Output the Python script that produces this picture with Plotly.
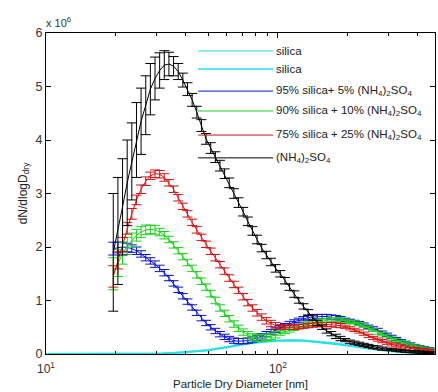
import plotly.graph_objects as go

# Particle dry diameter grid [nm] (SMPS bins)
diam = [19.50, 20.42, 21.38, 22.39, 23.44, 24.55, 25.70, 26.92, 28.18, 29.51,
        30.90, 32.36, 33.88, 35.48, 37.15, 38.90, 40.74, 42.66, 44.67, 46.77,
        48.98, 51.29, 53.70, 56.23, 58.88, 61.66, 64.57, 67.61, 70.79, 74.13,
        77.62, 81.28, 85.11, 89.13, 93.33, 97.72, 102.3, 107.2, 112.2, 117.5,
        123.0, 128.8, 134.9, 141.3, 147.9, 154.9, 162.2, 169.8, 177.8, 186.2,
        195.0, 204.2, 213.8, 223.9, 234.4, 245.5, 257.0, 269.2, 281.8, 295.1,
        309.0, 323.6, 338.8, 354.8, 371.5, 389.0, 407.4, 426.6, 446.7, 467.7]

# dN/dlogD in units of 1e6
as_vals = [1.9, 2.3, 2.75, 3.2, 3.6, 4.0, 4.35, 4.65, 4.95, 5.15,
           5.3, 5.4, 5.42, 5.38, 5.28, 5.12, 4.95, 4.75, 4.52, 4.27,
           4.02, 3.85, 3.68, 3.52, 3.37, 3.2, 3.0, 2.83, 2.66, 2.48,
           2.3, 2.14, 1.98, 1.85, 1.72, 1.6, 1.5, 1.37, 1.25, 1.12,
           1.0, 0.89, 0.78, 0.68, 0.58, 0.5, 0.43, 0.38, 0.33, 0.29,
           0.26, 0.23, 0.21, 0.19, 0.17, 0.15, 0.13, 0.12, 0.1, 0.09,
           0.08, 0.07, 0.06, 0.05, 0.045, 0.04, 0.035, 0.03, 0.025, 0.02]
as_err = [1.1, 1.0, 0.9, 0.8, 0.72, 0.7, 0.62, 0.55, 0.48, 0.4,
          0.33, 0.27, 0.22, 0.18, 0.15, 0.13, 0.12, 0.12, 0.11, 0.11,
          0.1, 0.1, 0.1, 0.1, 0.09, 0.09, 0.09, 0.09, 0.08, 0.08,
          0.08, 0.08, 0.07, 0.07, 0.07, 0.07, 0.06, 0.06, 0.06, 0.06,
          0.05, 0.05, 0.05, 0.05, 0.05, 0.04, 0.04, 0.04, 0.04, 0.04,
          0.03, 0.03, 0.03, 0.03, 0.03, 0.03, 0.03, 0.03, 0.03, 0.02,
          0.02, 0.02, 0.02, 0.02, 0.02, 0.02, 0.02, 0.02, 0.02, 0.02]

s75_vals = [1.45, 1.75, 2.05, 2.35, 2.62, 2.88, 3.08, 3.23, 3.33, 3.37,
            3.36, 3.3, 3.2, 3.08, 2.92, 2.76, 2.62, 2.46, 2.32, 2.18,
            2.05, 1.92, 1.8, 1.67, 1.55, 1.42, 1.3, 1.19, 1.07, 0.96,
            0.86, 0.77, 0.69, 0.62, 0.57, 0.53, 0.51, 0.5, 0.5, 0.5,
            0.51, 0.52, 0.53, 0.54, 0.55, 0.55, 0.55, 0.55, 0.54, 0.53,
            0.51, 0.48, 0.45, 0.42, 0.38, 0.34, 0.3, 0.27, 0.24, 0.21,
            0.18, 0.16, 0.14, 0.12, 0.1, 0.09, 0.08, 0.07, 0.06, 0.05]
s75_err = [0.2, 0.16, 0.13, 0.11, 0.1, 0.09, 0.08, 0.08, 0.07, 0.07,
           0.07, 0.07, 0.06, 0.06, 0.06, 0.06, 0.06, 0.06, 0.06, 0.06,
           0.06, 0.06, 0.06, 0.06, 0.06, 0.06, 0.06, 0.06, 0.06, 0.06,
           0.06, 0.06, 0.06, 0.06, 0.06, 0.06, 0.04, 0.04, 0.04, 0.04,
           0.04, 0.04, 0.04, 0.04, 0.04, 0.04, 0.04, 0.04, 0.04, 0.04,
           0.03, 0.03, 0.03, 0.03, 0.03, 0.03, 0.03, 0.03, 0.03, 0.03,
           0.03, 0.03, 0.03, 0.03, 0.03, 0.03, 0.03, 0.03, 0.03, 0.03]

s90_vals = [1.5, 1.7, 1.88, 2.02, 2.13, 2.22, 2.28, 2.32, 2.33, 2.32,
            2.28, 2.22, 2.14, 2.04, 1.93, 1.82, 1.71, 1.6, 1.48, 1.36,
            1.25, 1.13, 1.0, 0.86, 0.76, 0.66, 0.56, 0.48, 0.41, 0.36,
            0.32, 0.3, 0.3, 0.31, 0.33, 0.36, 0.39, 0.42, 0.45, 0.48,
            0.51, 0.54, 0.56, 0.58, 0.6, 0.62, 0.63, 0.64, 0.64, 0.63,
            0.62, 0.6, 0.59, 0.56, 0.53, 0.49, 0.45, 0.4, 0.37, 0.33,
            0.29, 0.26, 0.22, 0.19, 0.16, 0.14, 0.12, 0.1, 0.08, 0.07]
s90_err = [0.3, 0.25, 0.2, 0.16, 0.13, 0.11, 0.1, 0.09, 0.08, 0.08,
           0.07, 0.07, 0.06, 0.06, 0.06, 0.06, 0.06, 0.06, 0.06, 0.06,
           0.06, 0.06, 0.06, 0.06, 0.06, 0.06, 0.06, 0.06, 0.06, 0.06,
           0.06, 0.06, 0.06, 0.06, 0.06, 0.06, 0.04, 0.04, 0.04, 0.04,
           0.04, 0.04, 0.04, 0.04, 0.04, 0.04, 0.04, 0.04, 0.04, 0.04,
           0.03, 0.03, 0.03, 0.03, 0.03, 0.03, 0.03, 0.03, 0.03, 0.03,
           0.03, 0.03, 0.03, 0.03, 0.03, 0.03, 0.03, 0.03, 0.03, 0.03]

s95_vals = [1.97, 1.99, 2.0, 1.99, 1.97, 1.93, 1.87, 1.8, 1.74, 1.68,
            1.6, 1.52, 1.42, 1.32, 1.2, 1.08, 0.98, 0.87, 0.77, 0.67,
            0.58, 0.5, 0.43, 0.37, 0.32, 0.28, 0.25, 0.24, 0.24, 0.25,
            0.27, 0.3, 0.33, 0.37, 0.41, 0.45, 0.49, 0.53, 0.57, 0.6,
            0.63, 0.66, 0.68, 0.69, 0.7, 0.7, 0.7, 0.69, 0.68, 0.66,
            0.64, 0.62, 0.6, 0.58, 0.55, 0.51, 0.48, 0.45, 0.4, 0.36,
            0.32, 0.28, 0.24, 0.21, 0.18, 0.15, 0.13, 0.11, 0.09, 0.08]
s95_err = [0.12, 0.1, 0.09, 0.08, 0.07, 0.07, 0.06, 0.06, 0.06, 0.06,
           0.06, 0.06, 0.05, 0.05, 0.05, 0.05, 0.05, 0.05, 0.05, 0.05,
           0.05, 0.05, 0.05, 0.05, 0.05, 0.05, 0.05, 0.05, 0.05, 0.05,
           0.05, 0.05, 0.05, 0.05, 0.05, 0.05, 0.04, 0.04, 0.04, 0.04,
           0.04, 0.04, 0.04, 0.04, 0.04, 0.04, 0.04, 0.04, 0.04, 0.04,
           0.03, 0.03, 0.03, 0.03, 0.03, 0.03, 0.03, 0.03, 0.03, 0.03,
           0.03, 0.03, 0.03, 0.03, 0.03, 0.03, 0.03, 0.03, 0.03, 0.03]

# pure silica runs (coarser grid over full range)
diam_si = [10.0, 11.2, 12.6, 14.1, 15.8, 17.8, 20.0, 22.4, 25.1, 28.2,
           31.6, 35.5, 39.8, 44.7, 50.1, 56.2, 63.1, 70.8, 79.4, 89.1,
           100.0, 112.0, 126.0, 141.0, 158.0, 178.0, 200.0, 224.0, 251.0, 282.0,
           316.0, 355.0, 398.0, 447.0, 468.0]
si1_vals = [0, 0, 0, 0, 0, 0, 0, 0, 0, 0.005,
            0.01, 0.02, 0.035, 0.05, 0.075, 0.11, 0.15, 0.19, 0.22, 0.24,
            0.255, 0.26, 0.255, 0.24, 0.22, 0.2, 0.17, 0.13, 0.1, 0.07,
            0.05, 0.03, 0.02, 0.01, 0.005]
si2_vals = [0, 0, 0, 0, 0, 0, 0, 0, 0, 0.005,
            0.01, 0.02, 0.03, 0.05, 0.07, 0.1, 0.14, 0.18, 0.21, 0.235,
            0.25, 0.255, 0.25, 0.235, 0.215, 0.19, 0.16, 0.125, 0.095, 0.065,
            0.045, 0.03, 0.018, 0.01, 0.005]

names = ["silica", "silica",
         "95% silica+ 5% (NH<sub>4</sub>)<sub>2</sub>SO<sub>4</sub>",
         "90% silica + 10% (NH<sub>4</sub>)<sub>2</sub>SO<sub>4</sub>",
         "75% silica + 25% (NH<sub>4</sub>)<sub>2</sub>SO<sub>4</sub>",
         "(NH<sub>4</sub>)<sub>2</sub>SO<sub>4</sub>"]
colors = ["#6fe3ea", "#1ee0ea", "#0a14c8", "#1ed21e", "#d21414", "#000000"]
# legend row positions (paper fraction of plot height, from the reference)
legend_rows = [0.944, 0.888, 0.819, 0.757, 0.682, 0.611]

fig = go.Figure()
fig.add_trace(go.Scatter(x=diam_si, y=si1_vals, mode="lines", name="silica",
                         line=dict(color=colors[0], width=2)))
fig.add_trace(go.Scatter(x=diam_si, y=si2_vals, mode="lines", name="silica",
                         line=dict(color=colors[1], width=2)))
for vals, err, nm, col in [(s95_vals, s95_err, names[2], colors[2]),
                           (s90_vals, s90_err, names[3], colors[3]),
                           (s75_vals, s75_err, names[4], colors[4]),
                           (as_vals, as_err, names[5], colors[5])]:
    fig.add_trace(go.Scatter(
        x=diam, y=vals, mode="lines", name=nm,
        line=dict(color=col, width=1),
        error_y=dict(type="data", array=err, visible=True, color=col,
                     thickness=1, width=5)))

font = "Liberation Sans, Arial, sans-serif"

# hand-placed legend (lines + labels), no box as in the reference
shapes = []
annotations = []
for nm, col, yr in zip(names, colors, legend_rows):
    shapes.append(dict(type="line", xref="paper", yref="paper",
                       x0=0.391, x1=0.584, y0=yr, y1=yr,
                       line=dict(color=col, width=1.5 if col in colors[:2] else 1)))
    annotations.append(dict(text=nm, xref="paper", yref="paper",
                            x=0.587, y=yr, xanchor="left", yanchor="middle",
                            showarrow=False, font=dict(family=font, size=11.5, color="#222")))
annotations.append(dict(text="x 10<sup>6</sup>", xref="paper", yref="paper",
                        x=0.0, y=1.0, xanchor="left", yanchor="bottom", showarrow=False,
                        xshift=-2, yshift=2, font=dict(size=11, color="#333")))
# x-axis title
annotations.append(dict(text="Particle Dry Diameter [nm]", xref="paper", yref="paper",
                        x=0.5, y=-0.116, xanchor="center", yanchor="bottom", showarrow=False,
                        borderpad=0, font=dict(family=font, size=11.5, color="#222")))

fig.update_layout(
    width=438, height=392,
    margin=dict(l=46, r=3, t=33, b=38),
    paper_bgcolor="white", plot_bgcolor="white",
    font=dict(family=font, size=11, color="#222"),
    showlegend=False,
    shapes=shapes,
    annotations=annotations,
    xaxis=dict(type="log", range=[1, 2.677], automargin=False,
               tickvals=[10, 100], ticktext=["10<sup>1</sup>", "10<sup>2</sup>"],
               ticks="inside", ticklen=5, tickcolor="black",
               minor=dict(tickvals=[20, 30, 40, 50, 60, 70, 80, 90, 200, 300, 400],
                          ticks="inside", ticklen=3, tickcolor="black", showgrid=False),
               showline=True, linecolor="black", linewidth=1, mirror="ticks",
               showgrid=False, zeroline=False, ticklabelstandoff=4,
               tickfont=dict(size=12, color="#333")),
    yaxis=dict(range=[0, 6], tickvals=[0, 1, 2, 3, 4, 5, 6], automargin=False,
               ticks="inside", ticklen=5, tickcolor="black",
               showline=True, linecolor="black", linewidth=1, mirror="ticks",
               showgrid=False, zeroline=False,
               tickfont=dict(size=12.5, color="#333"),
               title=dict(text="dN/dlogD<sub>dry</sub>", font=dict(size=12, color="#222"),
                          standoff=5)),
)

fig.write_html("out.html")
